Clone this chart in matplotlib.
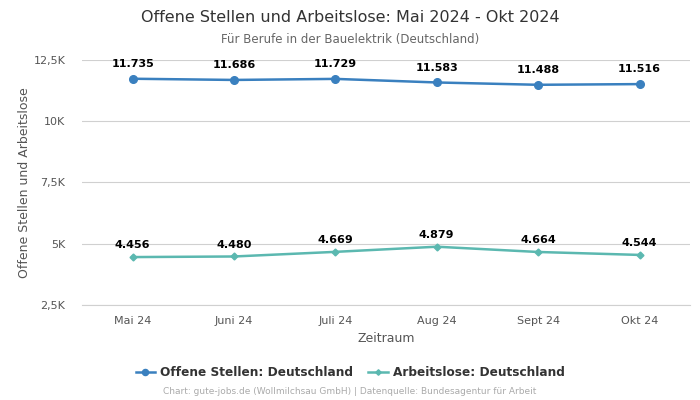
import numpy as np
import matplotlib.pyplot as plt
from matplotlib.ticker import FuncFormatter

# Daten
monate = ['Mai 24', 'Juni 24', 'Juli 24', 'Aug 24', 'Sept 24', 'Okt 24']
offene_stellen = [11735, 11686, 11729, 11583, 11488, 11516]
arbeitslose = [4456, 4480, 4669, 4879, 4664, 4544]
y_ticks = [2500, 5000, 7500, 10000, 12500]

BLAU = '#3a80bf'
TUERKIS = '#5bb8b0'


def de_zahl(v):
    return f'{v:,.0f}'.replace(',', '.')


def k_format(v, pos):
    s = f'{v / 1000:g}'.replace('.', ',')
    return s + 'K'


fig = plt.figure(figsize=(7, 4), dpi=100)
ax = fig.add_axes([0.117, 0.2375, 0.869, 0.6125])

x = np.arange(len(monate))
ax.plot(x, offene_stellen, color=BLAU, lw=1.8, marker='o', ms=5.5,
        label='Offene Stellen: Deutschland', zorder=3)
ax.plot(x, arbeitslose, color=TUERKIS, lw=1.8, marker='D', ms=3.5,
        label='Arbeitslose: Deutschland', zorder=3)

for xi, v in zip(x, offene_stellen):
    ax.annotate(de_zahl(v), (xi, v), xytext=(0, 7), textcoords='offset points',
                ha='center', va='bottom', fontsize=8, fontweight='bold')
for xi, v in zip(x, arbeitslose):
    ax.annotate(de_zahl(v), (xi, v), xytext=(0, 5), textcoords='offset points',
                ha='center', va='bottom', fontsize=8, fontweight='bold')

ax.set_xlim(-0.5, len(monate) - 0.5)
ax.set_ylim(2500, 12500)
ax.set_yticks(y_ticks)
ax.yaxis.set_major_formatter(FuncFormatter(k_format))
ax.set_xticks(x)
ax.set_xticklabels(monate)
ax.tick_params(axis='both', length=0, labelsize=8, colors='#555555', pad=8)
ax.tick_params(axis='y', pad=12)
ax.grid(axis='y', color='#d0d0d0', lw=0.8)
ax.set_axisbelow(True)
for s in ['top', 'right', 'left']:
    ax.spines[s].set_visible(False)
ax.spines['bottom'].set_color('#d0d0d0')

ax.set_xlabel('Zeitraum', fontsize=9, color='#555555', labelpad=4)
ax.set_ylabel('Offene Stellen und Arbeitslose', fontsize=9, color='#555555', labelpad=2)

fig.text(0.5, 0.957, 'Offene Stellen und Arbeitslose: Mai 2024 - Okt 2024',
         ha='center', va='center', fontsize=11.5, color='#333333')
fig.text(0.5, 0.902, 'Für Berufe in der Bauelektrik (Deutschland)',
         ha='center', va='center', fontsize=8.5, color='#666666')

fig.legend(loc='center', bbox_to_anchor=(0.5, 0.068), ncol=2, frameon=False,
           prop={'weight': 'bold', 'size': 8.7}, labelcolor='#333333',
           handlelength=1.6, columnspacing=1.3, handletextpad=0.4, markerscale=0.8)
fig.text(0.5, 0.02, 'Chart: gute-jobs.de (Wollmilchsau GmbH) | Datenquelle: Bundesagentur für Arbeit',
         ha='center', va='center', fontsize=6.5, color='#aaaaaa')

fig.savefig('out.png', dpi=100)
